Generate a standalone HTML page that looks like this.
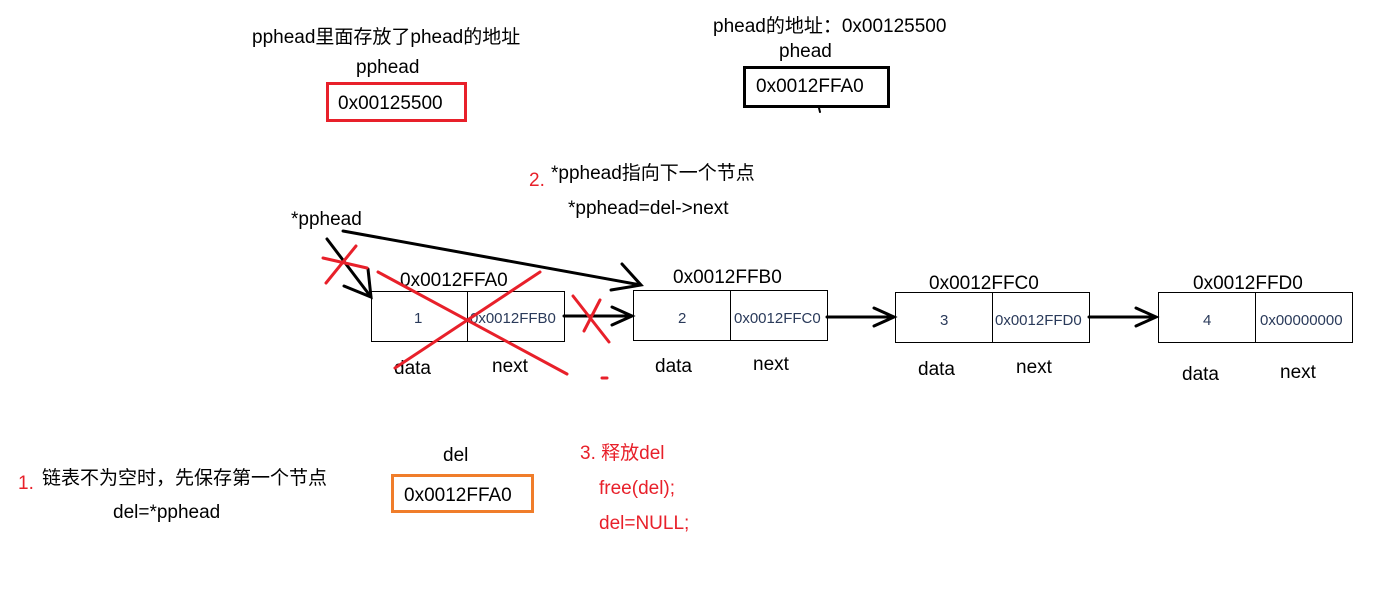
<!DOCTYPE html>
<html><head><meta charset="utf-8"><style>
body{margin:0;background:#fff;width:1394px;height:585px;overflow:hidden}
svg text{font-family:"Liberation Sans","Microsoft YaHei","Noto Sans CJK SC",sans-serif}
</style></head><body>
<svg width="1394" height="585" viewBox="0 0 1394 585" xmlns="http://www.w3.org/2000/svg">
<g font-size="19" fill="#000">
<text x="252" y="43">pphead里面存放了phead的地址</text>
<text x="356" y="73">pphead</text>
<text x="713" y="32">phead的地址：0x00125500</text>
<text x="779" y="57">phead</text>
<text x="551" y="179">*pphead指向下一个节点</text>
<text x="568" y="214">*pphead=del-&gt;next</text>
<text x="291" y="225">*pphead</text>
<text x="400" y="286">0x0012FFA0</text>
<text x="673" y="283">0x0012FFB0</text>
<text x="929" y="289">0x0012FFC0</text>
<text x="1193" y="289">0x0012FFD0</text>
<text x="394" y="374">data</text><text x="492" y="372">next</text>
<text x="655" y="372">data</text><text x="753" y="370">next</text>
<text x="918" y="375">data</text><text x="1016" y="373">next</text>
<text x="1182" y="380">data</text><text x="1280" y="378">next</text>
<text x="443" y="461">del</text>
<text x="42" y="484">链表不为空时，先保存第一个节点</text>
<text x="113" y="518">del=*pphead</text>
</g>
<g font-size="19" fill="#e8202a">
<text x="529" y="186">2.</text>
<text x="18" y="489">1.</text>
<text x="580" y="459">3. 释放del</text>
<text x="599" y="494">free(del);</text>
<text x="599" y="529">del=NULL;</text>
</g>
<rect x="327.5" y="83.5" width="138" height="37" fill="none" stroke="#e8202a" stroke-width="3"/>
<text x="338" y="109" font-size="19" font-family="Liberation Sans,sans-serif">0x00125500</text>
<rect x="744.5" y="67.5" width="144" height="39" fill="none" stroke="#000" stroke-width="3"/>
<text x="756" y="92" font-size="19" font-family="Liberation Sans,sans-serif">0x0012FFA0</text>
<rect x="392.5" y="475.5" width="140" height="36" fill="none" stroke="#f07d2a" stroke-width="3"/>
<text x="404" y="501" font-size="19" font-family="Liberation Sans,sans-serif">0x0012FFA0</text>
<g fill="none" stroke="#000" stroke-width="1">
<rect x="371.5" y="291.5" width="193" height="50"/><line x1="467.5" y1="291" x2="467.5" y2="341"/>
<rect x="633.5" y="290.5" width="194" height="50"/><line x1="730.5" y1="290" x2="730.5" y2="340"/>
<rect x="895.5" y="292.5" width="194" height="50"/><line x1="992.5" y1="292" x2="992.5" y2="342"/>
<rect x="1158.5" y="292.5" width="194" height="50"/><line x1="1255.5" y1="292" x2="1255.5" y2="342"/>
</g>
<g font-size="15" fill="#2a3a5a">
<text x="414" y="323">1</text><text x="470" y="323">0x0012FFB0</text>
<text x="678" y="323">2</text><text x="734" y="323">0x0012FFC0</text>
<text x="940" y="325">3</text><text x="995" y="325">0x0012FFD0</text>
<text x="1203" y="325">4</text><text x="1260" y="325">0x00000000</text>
</g>
<g fill="none" stroke="#000" stroke-width="3" stroke-linecap="round">
<path d="M564 316 L632 316 M612 307 L632 316 L612 325"/>
<path d="M827 317 L894 317 M874 308 L894 317 L874 326"/>
<path d="M1089 317 L1156 317 M1136 308 L1156 317 L1136 326"/>
<path d="M343 231 L641 285 M622 264 L641 285 L611 290"/>
<path d="M327 239 L371 297 M344 286 L371 297 L368 269"/>
<line x1="819" y1="108" x2="820" y2="112" stroke-width="2"/>
</g>
<g fill="none" stroke="#e8202a" stroke-width="3" stroke-linecap="round">
<line x1="378" y1="272" x2="567" y2="374"/>
<line x1="395" y1="368" x2="540" y2="272"/>
<line x1="323" y1="258" x2="367" y2="268"/>
<line x1="356" y1="246" x2="326" y2="283"/>
<line x1="573" y1="296" x2="609" y2="342"/>
<line x1="600" y1="300" x2="584" y2="331"/>
<line x1="602" y1="378" x2="607" y2="378"/>
</g>
</svg>
</body></html>
